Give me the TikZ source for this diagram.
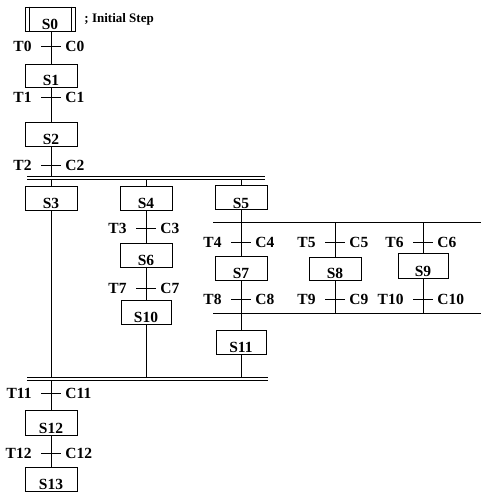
\documentclass[tikz,border=0pt]{standalone}
\usepackage{fontspec}
\setmainfont{Liberation Serif}
\begin{document}
\begin{tikzpicture}[x=1pt,y=-1pt,line width=0.9pt,
  stepbox/.style={draw,rectangle,inner sep=0pt,minimum width=52pt,minimum height=#1},
  stepbox/.default=24pt,
  steptext/.style={anchor=base,inner sep=0pt,font=\fontsize{15.5}{17}\selectfont\bfseries},
  tlab/.style={anchor=east,inner sep=0pt,font=\fontsize{15.5}{17}\selectfont\bfseries},
  clab/.style={anchor=west,inner sep=0pt,font=\fontsize{15.5}{17}\selectfont\bfseries},
  bar/.style={line width=0.6pt}]
\useasboundingbox (0,0) rectangle (481,496);
% steps
\node[stepbox=24pt,minimum width=50pt] (s0) at (50,19) {};
\node[stepbox=23pt] (s1) at (51,75.5) {};
\node[stepbox] (s2) at (51,134) {};
\node[stepbox] (s3) at (51,198) {};
\node[stepbox] (s4) at (146,198) {};
\node[stepbox] (s5) at (241,197.5) {};
\node[stepbox] (s6) at (146,255) {};
\node[stepbox] (s7) at (241,268) {};
\node[stepbox=23pt] (s8) at (335,268.5) {};
\node[stepbox=25pt,minimum width=50pt] (s9) at (423,265.5) {};
\node[stepbox,minimum width=50pt] (s10) at (146,312) {};
\node[stepbox,minimum width=50pt] (s11) at (241,342) {};
\node[stepbox=25pt] (s12) at (51,422.5) {};
\node[stepbox] (s13) at (51,479) {};
\foreach \s/\t in {s0/S0,s1/S1,s2/S2,s3/S3,s4/S4,s5/S5,s6/S6,s7/S7,s8/S8,s9/S9,s10/S10,s11/S11,s12/S12,s13/S13}
  \node[steptext] (\s t) at ([yshift=1.5pt]\s.south) {\t};
\draw ([xshift=4.5pt]s0.north west) -- ([xshift=4.5pt]s0.south west);
\draw ([xshift=-4.5pt]s0.north east) -- ([xshift=-4.5pt]s0.south east);
\node[anchor=west,inner sep=0pt,font=\fontsize{13}{15}\selectfont\bfseries] (init) at (84,19) {; Initial Step};
% bars
\coordinate (top1) at (27,176);
\coordinate (top2) at (27,179.5);
\coordinate (sel1) at (213,222);
\coordinate (sel2) at (213,313.5);
\coordinate (bot1) at (27,377);
\coordinate (bot2) at (27,380.5);
\draw[bar] (top1) -- (265,176);
\draw[bar] (top2) -- (265,179.5);
\draw[bar] (bot1) -- (268,377);
\draw[bar] (bot2) -- (268,380.5);
\draw (sel1) -- (481,222);
\draw (sel2) -- (481,313.5);
% links
\draw (s1.north |- s0.south) -- (s1.north);
\draw (s1.south) -- (s2.north);
\draw (s2.south) -- (s2.south |- top1);
\foreach \s in {s3,s4,s5} \draw (\s.north) -- (\s.north |- top2);
\draw (s5.south) -- (s5.south |- sel1);
\foreach \s in {s7,s8,s9} {
  \draw (\s.north) -- (\s.north |- sel1);
  \draw (\s.south) -- (\s.south |- sel2);
}
\draw (s11.north) -- (s11.north |- sel2);
\draw (s4.south) -- (s6.north);
\draw (s6.south) -- (s10.north);
\foreach \s in {s3,s10,s11} \draw (\s.south) -- (\s.south |- bot1);
\draw (s12.north) -- (s12.north |- bot2);
\draw (s12.south) -- (s13.north);
% transitions
\foreach \n/\x/\y in {0/51/46,1/51/97,2/51/165,3/146/228,7/146/288,4/241/242,5/335/242,6/423/242,8/241/299,9/335/299,10/423/299,11/51/393,12/51/453} {
  \coordinate (tr\n) at (\x,\y);
  \draw ([xshift=-10pt]tr\n) -- ([xshift=10pt]tr\n);
  \node[tlab] (tl\n) at ([xshift=-19pt]tr\n) {T\n};
  \node[clab] (cl\n) at ([xshift=14pt]tr\n) {C\n};
}
\end{tikzpicture}
\end{document}
